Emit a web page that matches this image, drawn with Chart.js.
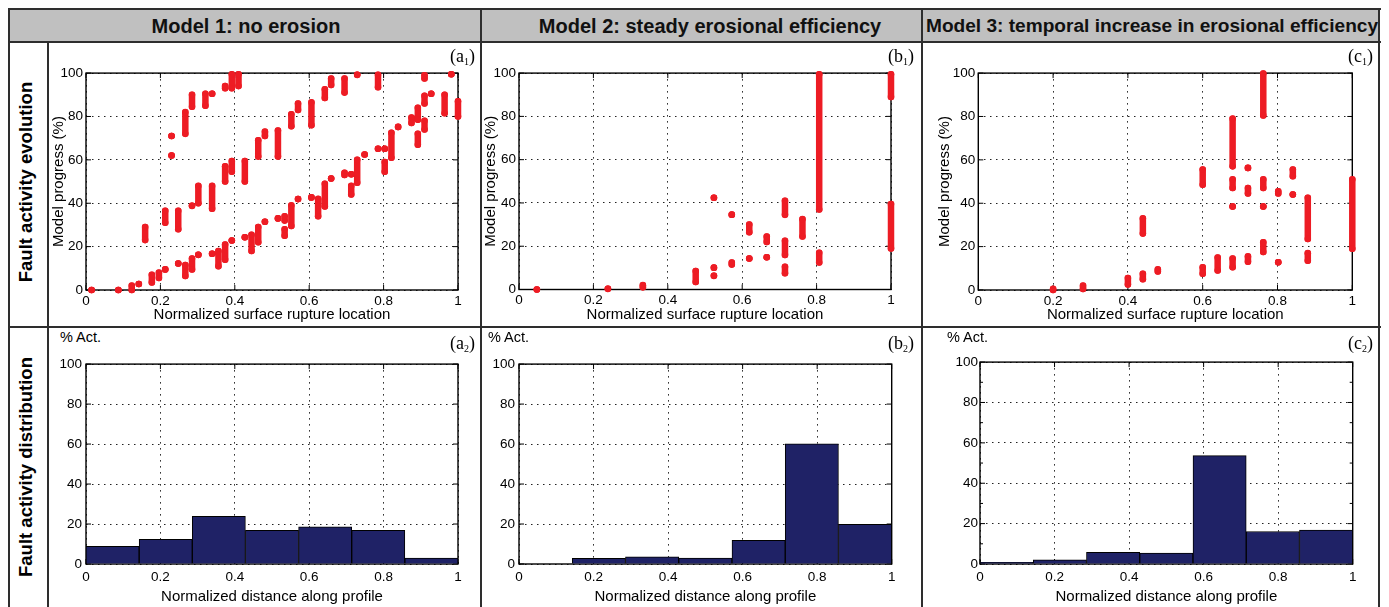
<!DOCTYPE html>
<html>
<head>
<meta charset="utf-8">
<script src="https://cdn.jsdelivr.net/npm/chart.js@4.4.1/dist/chart.umd.min.js"></script>
<style>
  body { margin: 0; background: #fff; }
  #page { position: relative; width: 1389px; height: 607px; overflow: hidden;
          font-family: "Liberation Sans", Arial, Helvetica, sans-serif; color: #000; }
  .ln { position: absolute; background: #2e2e2e; z-index: 3; }
  .hdr { position: absolute; top: 10px; height: 32px; line-height: 32px; font-weight: bold;
         font-size: 20px; white-space: nowrap; color: #111; z-index: 2; }
  .rowlab { position: absolute; font-weight: bold; font-size: 18.5px; white-space: nowrap;
            transform: translate(-50%, -50%) rotate(-90deg); }
  .tag { position: absolute; font-family: "Liberation Serif", "Times New Roman", serif;
         font-size: 18px; line-height: 18px; white-space: nowrap; }
  .tag sub { font-size: 10px; vertical-align: -3px; }
  .act { position: absolute; font-size: 14.5px; line-height: 16px; }
  .box { position: absolute; }
</style>
</head>
<body>
<div id="page">
  <div style="position:absolute;left:9px;top:10px;width:1370px;height:31px;background:#c0c0c0;"></div>
  <div class="hdr" style="left:246px;transform:translateX(-50%);">Model 1: no erosion</div>
  <div class="hdr" style="left:710px;transform:translateX(-50%);">Model 2: steady erosional efficiency</div>
  <div class="hdr" style="left:926px;font-size:19.1px;">Model 3: temporal increase in erosional efficiency</div>

  <div class="rowlab" style="left:26px;top:182px;">Fault activity evolution</div>
  <div class="rowlab" style="left:26px;top:467px;">Fault activity distribution</div>

  <div class="box" id="pa1"><canvas></canvas></div>
  <div class="box" id="pb1"><canvas></canvas></div>
  <div class="box" id="pc1"><canvas></canvas></div>
  <div class="box" id="pa2"><canvas></canvas></div>
  <div class="box" id="pb2"><canvas></canvas></div>
  <div class="box" id="pc2"><canvas></canvas></div>

  <div class="tag" style="left:450px;top:47px;">(a<sub>1</sub>)</div>
  <div class="tag" style="left:888px;top:47px;">(b<sub>1</sub>)</div>
  <div class="tag" style="left:1348px;top:47px;">(c<sub>1</sub>)</div>
  <div class="tag" style="left:450px;top:334px;">(a<sub>2</sub>)</div>
  <div class="tag" style="left:888px;top:334px;">(b<sub>2</sub>)</div>
  <div class="tag" style="left:1348px;top:334px;">(c<sub>2</sub>)</div>

  <div class="act" style="left:60px;top:329px;">% Act.</div>
  <div class="act" style="left:488px;top:329px;">% Act.</div>
  <div class="act" style="left:947px;top:329px;">% Act.</div>

  <div class="ln" style="left:7.5px;top:8px;width:1373px;height:2px;"></div>
  <div class="ln" style="left:7.5px;top:41px;width:1373px;height:2px;"></div>
  <div class="ln" style="left:7.5px;top:326px;width:1373px;height:2px;"></div>
  <div class="ln" style="left:7.5px;top:8px;width:2px;height:599px;"></div>
  <div class="ln" style="left:47px;top:42px;width:2px;height:565px;"></div>
  <div class="ln" style="left:479.5px;top:8px;width:2px;height:599px;"></div>
  <div class="ln" style="left:921px;top:8px;width:2px;height:599px;"></div>
  <div class="ln" style="left:1378px;top:8px;width:2px;height:599px;"></div>
</div>

<script>
// fault streaks: [normalized location, progress from (%), progress to (%)]
const model1Streaks = [
  [0.015, 0, 0], [0.087, 0, 0], [0.123, 0, 2], [0.142, 2.8, 2.8], [0.159, 23, 29],
  [0.177, 3.5, 7], [0.196, 5.5, 8], [0.213, 9.5, 9.5], [0.213, 31, 36.5], [0.230, 71, 71],
  [0.230, 62, 62], [0.248, 28, 36.5], [0.248, 12.2, 12.2], [0.267, 72, 82], [0.267, 6.5, 11.5],
  [0.285, 38.8, 38.8], [0.285, 9.5, 14.5], [0.285, 84.5, 90], [0.302, 16.2, 16.2], [0.302, 40, 48],
  [0.321, 85, 90.5], [0.339, 37.5, 48], [0.339, 90.5, 90.5], [0.339, 16.7, 16.7], [0.356, 11, 18],
  [0.374, 14, 21], [0.374, 50, 57], [0.374, 93, 94], [0.392, 22.8, 22.8], [0.392, 54.5, 59.5],
  [0.392, 93, 99.5], [0.410, 94, 99.5], [0.427, 24.3, 24.3], [0.427, 50, 59.5], [0.445, 18, 25.5],
  [0.463, 22, 29], [0.463, 61.5, 69], [0.481, 31.5, 31.5], [0.481, 71, 73], [0.516, 61.5, 73.5],
  [0.516, 33, 33], [0.534, 32, 34], [0.534, 25, 28], [0.552, 75.5, 81], [0.552, 29.5, 39],
  [0.570, 41.9, 41.9], [0.570, 83, 86], [0.606, 76, 86.5], [0.606, 42.7, 42.7], [0.624, 34, 42],
  [0.642, 88.5, 92.5], [0.642, 38.5, 49], [0.659, 51.4, 51.4], [0.659, 94.5, 97.5], [0.695, 91, 97.5],
  [0.695, 53, 54], [0.713, 53.4, 53.4], [0.713, 44, 48], [0.729, 99.2, 99.2], [0.729, 49.5, 60],
  [0.749, 62.5, 62.5], [0.785, 93.5, 99.2], [0.785, 65.1, 65.1], [0.803, 65.1, 65.1], [0.803, 54.5, 59],
  [0.821, 61, 72.5], [0.839, 75.2, 75.2], [0.875, 77, 79.5], [0.892, 78.5, 84], [0.892, 67, 72],
  [0.910, 97.5, 99], [0.910, 86, 89.5], [0.910, 74, 78], [0.928, 90.5, 90.5], [0.982, 99.5, 99.5],
  [0.964, 81.5, 90], [1.0, 80, 87]
];
const model2Streaks = [
  [0.048, 0, 0], [0.239, 0.3, 0.3], [0.333, 1, 2], [0.475, 3.5, 8.5], [0.524, 42.4, 42.4],
  [0.524, 10.1, 10.1], [0.524, 6.3, 6.3], [0.572, 34.6, 34.6], [0.572, 11.5, 12.5], [0.619, 26.5, 30],
  [0.619, 14.3, 14.3], [0.666, 22, 24.5], [0.666, 14.9, 14.9], [0.715, 34.5, 41], [0.715, 16, 22.5],
  [0.715, 7.5, 10.5], [0.762, 24.5, 32.5], [0.807, 37, 99.5], [0.807, 12.5, 17], [1.0, 89, 99.5],
  [1.0, 19, 39.5]
];
const model3Streaks = [
  [0.20, 0, 0.5], [0.28, 0.5, 2], [0.40, 2.5, 5.5], [0.44, 26, 33], [0.44, 5, 7.5],
  [0.48, 8.5, 9.5], [0.60, 48.5, 55.5], [0.60, 7.5, 10.5], [0.64, 9, 15], [0.68, 57, 79],
  [0.68, 47, 51], [0.68, 38.5, 38.5], [0.68, 10.5, 14.5], [0.721, 56.3, 56.3], [0.721, 44.5, 47],
  [0.721, 13, 15.5], [0.762, 80.5, 99.8], [0.762, 47, 51], [0.762, 38.5, 38.5], [0.762, 17.5, 22],
  [0.802, 44.5, 45.5], [0.802, 12.8, 12.8], [0.841, 52.5, 55.5], [0.841, 44, 44], [0.881, 23.5, 42.5],
  [0.881, 13.5, 17], [1.0, 19, 51]
];

// histogram of fault activity (7 bins along the profile)
const binCenters = [0.0714, 0.2143, 0.3571, 0.5, 0.6429, 0.7857, 0.9286];
const model1Activity = [8.9, 12.4, 23.9, 16.8, 18.6, 16.8, 3.0];
const model2Activity = [0, 2.8, 3.6, 3.0, 11.9, 60.1, 19.9];
const model3Activity = [0.8, 2.1, 5.8, 5.4, 53.7, 16.1, 16.8];

const xTicks = [0, 0.2, 0.4, 0.6, 0.8, 1];
const yTicks = [0, 20, 40, 60, 80, 100];

Chart.defaults.font.family = '"Liberation Sans", Arial, Helvetica, sans-serif';
Chart.defaults.color = '#000';
Chart.defaults.animation = false;

const RED = '#ed1c24';
const NAVY = '#1f2266';

// matlab style box with inward ticks
const matlabBox = {
  id: 'matlabBox',
  beforeDatasetsDraw(chart, args, opts) {
    const { ctx, chartArea: a, scales: { x, y } } = chart;
    ctx.save();
    ctx.strokeStyle = '#000';
    ctx.lineWidth = 1.4;
    ctx.strokeRect(a.left, a.top, a.right - a.left, a.bottom - a.top);
    ctx.lineWidth = 1;
    ctx.beginPath();
    x.ticks.forEach(t => {
      const px = x.getPixelForValue(t.value);
      ctx.moveTo(px, a.bottom); ctx.lineTo(px, a.bottom - 5);
      ctx.moveTo(px, a.top); ctx.lineTo(px, a.top + 5);
    });
    y.ticks.forEach(t => {
      const py = y.getPixelForValue(t.value);
      ctx.moveTo(a.left, py); ctx.lineTo(a.left + 5, py);
      ctx.moveTo(a.right, py); ctx.lineTo(a.right - 5, py);
    });
    (opts.minorY || []).forEach(v => {
      const py = y.getPixelForValue(v);
      ctx.moveTo(a.left, py); ctx.lineTo(a.left + 3, py);
      ctx.moveTo(a.right, py); ctx.lineTo(a.right - 3, py);
    });
    ctx.stroke();
    ctx.restore();
  }
};

function streakPoints(streaks) {
  const pts = [];
  streaks.forEach(([x, lo, hi]) => {
    pts.push({ x: x, y: lo }, { x: x, y: hi }, { x: x, y: null });
  });
  return pts;
}

function makePanel(id, p, type, datasets) {
  const [bx0, by0, bx1, by1] = p.box;
  const [pl, pt, pr, pb] = p.plot;
  const host = document.getElementById(id);
  host.style.left = bx0 + 'px';
  host.style.top = by0 + 'px';
  host.style.width = (bx1 - bx0) + 'px';
  host.style.height = (by1 - by0) + 'px';
  const yW = pl - bx0, xH = by1 - pb;

  return new Chart(host.querySelector('canvas'), {
    type: type,
    data: { datasets: datasets },
    options: {
      responsive: true,
      maintainAspectRatio: false,
      layout: { padding: { top: pt - by0, right: bx1 - pr, left: 0, bottom: 0 } },
      plugins: {
        legend: { display: false },
        tooltip: { enabled: false },
        matlabBox: { minorY: p.minorY || [] }
      },
      scales: {
        x: {
          type: 'linear', min: 0, max: 1, offset: false,
          afterFit: s => { s.height = xH; },
          afterBuildTicks: s => { s.ticks = xTicks.map(v => ({ value: v })); },
          ticks: { padding: p.xTickPad, font: { size: 13.5 }, maxRotation: 0,
                   callback: v => String(+(+v).toFixed(1)) },
          grid: { color: '#222', drawTicks: false, offset: false },
          border: { display: false, dash: [1.5, 4.5] },
          title: { display: true, text: p.xTitle, font: { size: 15 },
                   padding: { top: 0, bottom: p.xTitlePad } }
        },
        y: {
          type: 'linear', min: 0, max: 100,
          afterFit: s => { s.width = yW; },
          afterBuildTicks: s => { s.ticks = yTicks.map(v => ({ value: v })); },
          ticks: { padding: p.yTickPad, font: { size: 13.5 } },
          grid: { color: '#222', drawTicks: false },
          border: { display: false, dash: [1.5, 4.5] },
          title: p.yTitleX
            ? { display: true, text: 'Model progress (%)', font: { size: 15 },
                padding: { top: p.yTitleX - bx0 - 9, bottom: 0 } }
            : { display: false }
        }
      }
    },
    plugins: [matlabBox]
  });
}

function scatterSet(streaks) {
  return [{
    data: streakPoints(streaks),
    showLine: true,
    spanGaps: false,
    borderColor: RED,
    borderWidth: 6.5,
    borderCapStyle: 'round',
    backgroundColor: RED,
    pointRadius: 3.3,
    pointBorderWidth: 0,
    pointBackgroundColor: RED,
    clip: false
  }];
}

function barSet(values) {
  return [{
    data: binCenters.map((c, i) => ({ x: c, y: values[i] })),
    backgroundColor: NAVY,
    borderColor: '#000',
    borderWidth: 1,
    borderSkipped: 'bottom',
    barPercentage: 1,
    categoryPercentage: 1,
    grouped: false
  }];
}

const upperX = 'Normalized surface rupture location';
const lowerX = 'Normalized distance along profile';

makePanel('pa1', { box: [50, 62, 470, 327], plot: [86, 72, 458, 290], yTitleX: 58.5,
  xTitle: upperX, xTickPad: 3, xTitlePad: 3.5, yTickPad: 3 }, 'scatter', scatterSet(model1Streaks));
makePanel('pb1', { box: [482, 62, 903, 327], plot: [519, 72, 891, 289.5], yTitleX: 491,
  xTitle: upperX, xTickPad: 3, xTitlePad: 3.5, yTickPad: 3 }, 'scatter', scatterSet(model2Streaks));
makePanel('pc1', { box: [924, 62, 1372, 327], plot: [978.3, 72, 1352.3, 290], yTitleX: 944.5,
  xTitle: upperX, xTickPad: 3, xTitlePad: 3.5, yTickPad: 3 }, 'scatter', scatterSet(model3Streaks));

makePanel('pa2', { box: [50, 352, 470, 607], plot: [86, 362, 458, 564],
  xTitle: lowerX, xTickPad: 5, xTitlePad: 1, yTickPad: 4 }, 'bar', barSet(model1Activity));
makePanel('pb2', { box: [482, 352, 903, 607], plot: [519, 362, 891.7, 564],
  xTitle: lowerX, xTickPad: 5, xTitlePad: 1, yTickPad: 4 }, 'bar', barSet(model2Activity));
makePanel('pc2', { box: [924, 352, 1372, 607], plot: [980, 362, 1352.7, 564], minorY: [10, 30, 50, 70, 90],
  xTitle: lowerX, xTickPad: 5, xTitlePad: 1, yTickPad: 2 }, 'bar', barSet(model3Activity));
</script>
</body>
</html>
